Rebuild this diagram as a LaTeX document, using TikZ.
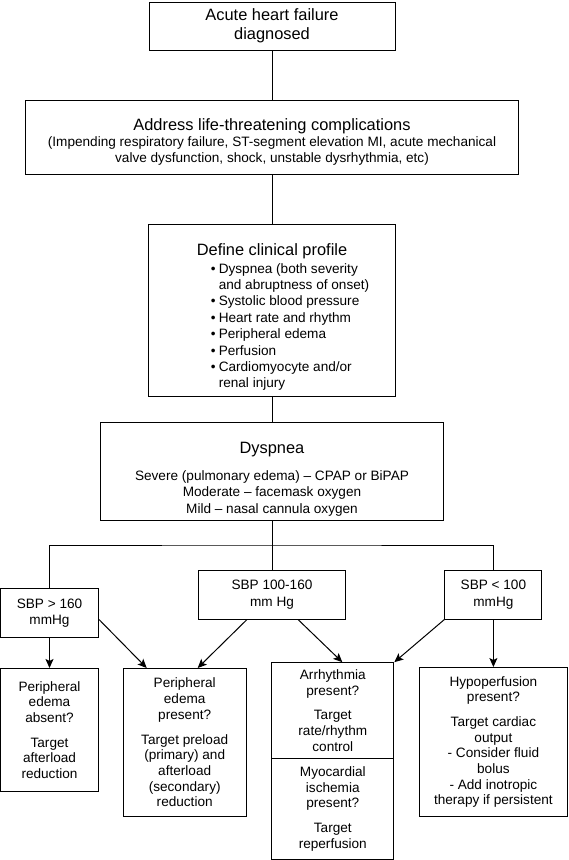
\documentclass[tikz,border=0pt]{standalone}
\usepackage{fontspec}
\setmainfont{Liberation Sans}
\usepackage{tikz}
\usetikzlibrary{arrows.meta}
\newcommand{\hftitle}{\fontsize{16.4}{19}\selectfont}
\newcommand{\hftext}{\fontsize{13.6}{15.7}\selectfont}
\newcommand{\hfbul}{\makebox[8pt][l]{\textbullet}}

\begin{document}
\begin{tikzpicture}[x=1pt,y=-1pt,
	box/.style={shape=rectangle,draw=black,line width=1pt,inner sep=0pt,align=center,font=\hftext},
	link/.style={-,line width=1pt,black},
	arr/.style={-{Stealth[length=9pt,width=8pt,inset=2pt]},line width=1pt,black}]
			\useasboundingbox (0,0) rectangle (568,860);
			
			\node[box,minimum width=246pt,minimum height=48pt,font=\hftitle] (A) at (272,26) {Acute heart failure\\diagnosed};
			\node[box,minimum width=493pt,minimum height=74pt] (B) at (272,137) {{\hftitle\rule{0pt}{22pt}Address life-threatening complications}\\[0pt]
				(Impending respiratory failure, ST-segment elevation MI, acute mechanical\\
				valve dysfunction, shock, unstable dysrhythmia, etc)};
			\node[box,minimum width=247pt,minimum height=172pt,font=\fontsize{13.6}{16.4}\selectfont] (C) at (272,310) {{\hftitle\rule{0pt}{28pt}Define clinical profile}\\[2pt]
				\hspace*{36pt}\begin{tabular}{@{}l@{}l@{}}
					\hfbul & Dyspnea (both severity\\
					& and abruptness of onset)\\
					\hfbul & Systolic blood pressure\\
					\hfbul & Heart rate and rhythm\\
					\hfbul & Peripheral edema\\
					\hfbul & Perfusion\\
					\hfbul & Cardiomyocyte and/or\\
					& renal injury
				\end{tabular}};
			\node[box,minimum width=343pt,minimum height=98pt,font=\fontsize{13.6}{16.5}\selectfont] (D) at (272,471) {{\hftitle\rule{0pt}{28pt}Dyspnea}\\[10pt]
				Severe (pulmonary edema) -- CPAP or BiPAP\\
				Moderate -- facemask oxygen\\
				Mild -- nasal cannula oxygen};
			
			% blood pressure branches
			\node[box,minimum width=98pt,minimum height=49pt] (E) at (49.5,613.3) {SBP > 160\\[1pt]mmHg};
			\node[box,minimum width=147pt,minimum height=49pt] (F) at (272,594.5) {SBP 100-160\\[1pt]mm Hg};
			\node[box,minimum width=97pt,minimum height=49pt] (G) at (493.4,594.5) {SBP < 100\\[1pt]mmHg};
			
			% targets
			\node[box,minimum width=98pt,minimum height=123pt] (H) at (49.5,730) {Peripheral\\edema\\absent?\\[9pt]Target\\afterload\\reduction};
			\node[box,minimum width=123pt,minimum height=148pt] (I) at (184.7,742.5) {Peripheral\\edema\\present?\\[9pt]Target preload\\(primary) and\\afterload\\(secondary)\\reduction};
			\node[box,minimum width=122pt,minimum height=95.6pt] (J) at (332.8,710.5) {Arrhythmia\\present?\\[9pt]Target\\rate/rhythm\\control};
			\node[box,minimum width=122pt,minimum height=101pt] (K) at (332.8,808.8) {Myocardial\\ischemia\\present?\\[9pt]Target\\reperfusion};
			\node[box,minimum width=147.6pt,minimum height=149pt] (L) at (493.4,742) {Hypoperfusion\\present?\\[9pt]Target cardiac\\output\\- Consider fluid\\bolus\\- Add inotropic\\therapy if persistent};
			
			\path [link] (A) edge (B);
			\path [link] (B) edge (C);
			\path [link] (C) edge (D);
			\path [link] (D) edge (F);
			\coordinate (split) at (272,545);
			\draw [link] (E.north) |- (split) -| (G.north);
			
			\path [arr] (E) edge (H);
			\path [arr] (E.east |- F.south) edge ([xshift=24pt]I.north west);
			\path [arr] ([xshift=49pt]F.south west) edge ([xshift=-49pt]I.north east);
			\path [arr] ([xshift=-48pt]F.south east) edge ([xshift=-52pt]J.north east);
			\path [arr] (G.south west) edge (J.north east);
			\path [arr] (G) edge (L);
			\end{tikzpicture}
\end{document}
